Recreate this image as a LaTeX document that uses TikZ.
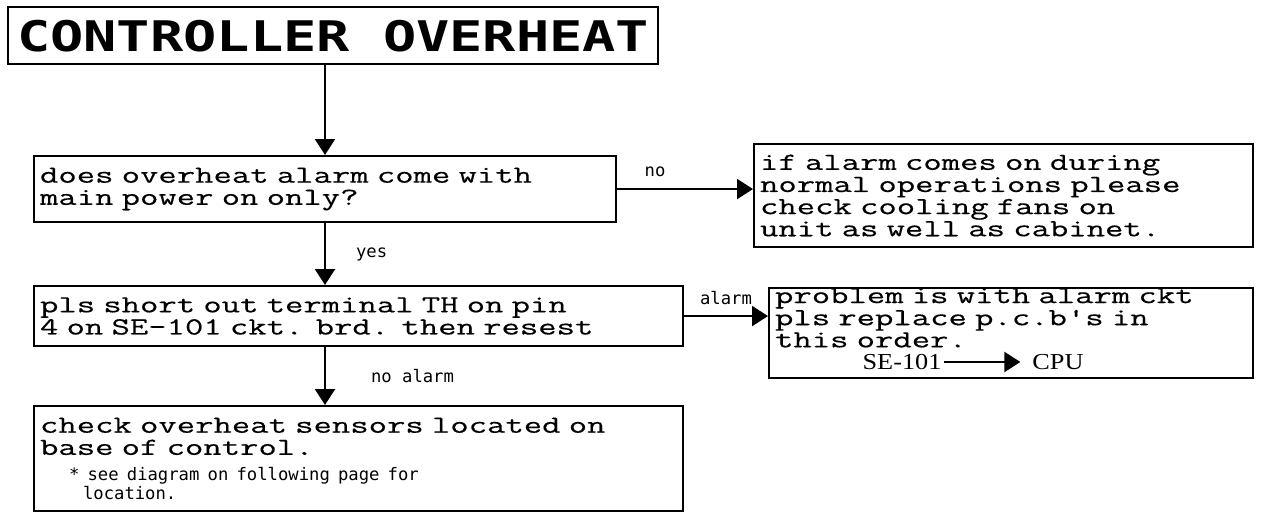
\documentclass[tikz,border=0pt]{standalone}
\usepackage{fontspec}
\usetikzlibrary{arrows.meta}

\newfontfamily\chartfamily{Latin Modern Mono}[FakeStretch=1.45, WordSpace=1.45, FakeBold=0.4]
\newfontfamily\headfamily{DejaVu Sans Mono}[FakeStretch=1.31]
\newfontfamily\tagfamily{DejaVu Sans Mono}
\newfontfamily\partfamily{Liberation Serif}[FakeStretch=1.15, WordSpace=1.15]
\newcommand\chartfont{\chartfamily\fontsize{14}{12.6}\selectfont}
\newcommand\headfont{\headfamily\bfseries\fontsize{24}{24}\selectfont}
\newcommand\tagfont{\tagfamily\fontsize{9.8}{10}\selectfont}
\newcommand\partfont{\partfamily\fontsize{13}{14}\selectfont}

\begin{document}
\begin{tikzpicture}[x=0.02cm, y=-0.02cm,
  stepbox/.style={draw, line width=1.2pt, anchor=north west, inner sep=0pt,
    inner xsep=0.12cm, align=left, font=\chartfont},
  flow/.style={line width=1.2pt, -{Triangle[length=0.32cm, width=0.4cm]}},
  tag/.style={font=\tagfont, inner sep=0pt}]

  \useasboundingbox (0,0) rectangle (1262,514);

  % ---- heading ----
  \node[draw, line width=1.4pt, anchor=north west, minimum width=13cm,
    minimum height=1.14cm, font=\headfont] (title) at (7,6) {CONTROLLER OVERHEAT};

  % ---- left column: checks ----
  \node[stepbox, text width=11.4cm, minimum height=1.32cm] (q1) at (33,155)
    {does overheat alarm come with\\main power on only?};
  \node[stepbox, text width=12.74cm, minimum height=1.2cm] (short) at (33,285)
    {pls short out terminal TH on pin\\4 on SE-101 ckt. brd. then resest};
  \node[stepbox, text width=12.74cm, minimum height=2.1cm] (sensors) at (33,405)
    {check overheat sensors located on\\base of control.\\[2pt]
     \hspace*{0.58cm}{\tagfont * see diagram on following page for}\\[-2pt]
     \hspace*{0.86cm}{\tagfont location.}};

  % ---- right column: results ----
  \node[stepbox, text width=9.74cm, minimum height=2.06cm] (fans) at (753,143)
    {if alarm comes on during\\normal operations please\\check cooling fans on\\unit as well as cabinet.};
  \node[stepbox, text width=9.44cm, text depth=1.5cm] (pcb) at (768,287)
    {problem is with alarm ckt\\pls replace p.c.b's in\\this order.};

  % replacement order inside the p.c.b. box
  \node[font=\partfont, inner sep=1pt] (se) at (902,362) {SE-101};
  \node[font=\partfont, inner sep=1pt] (cpu) at (1058,362) {CPU};
  \draw[flow] (se.east) -- ([xshift=-0.2cm]cpu.west);

  % ---- connectors ----
  \draw[flow] (title.south -| q1.north) -- (q1.north);
  \draw[flow] (q1.east) -- node[tag, pos=0.28, above=0.22cm] {no} (q1.east -| fans.west);
  \draw[flow] (q1.south) -- node[tag, right=0.6cm] {yes} (q1.south |- short.north);
  \draw[flow] (short.east) -- node[tag, above=0.2cm] {alarm} (short.east -| pcb.west);
  \draw[flow] (short.south -| q1.south) -- node[tag, right=0.9cm] {no alarm} (sensors.north -| q1.south);

\end{tikzpicture}
\end{document}
